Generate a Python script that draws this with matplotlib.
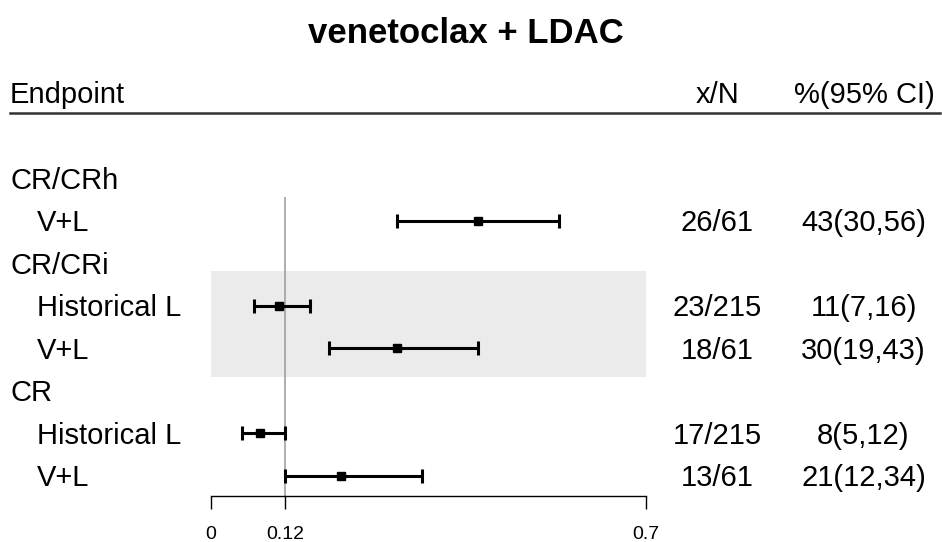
import numpy as np
import matplotlib
matplotlib.use('Agg')
import matplotlib.pyplot as plt
import matplotlib.transforms as mtransforms
from matplotlib.lines import Line2D

plt.rcParams['font.family'] = ['Liberation Sans', 'DejaVu Sans']

# data
row_labels = ['CR/CRh', 'V+L', 'CR/CRi', 'Historical L', 'V+L', 'CR', 'Historical L', 'V+L']
is_group = [True, False, True, False, False, True, False, False]
xn = ['', '26/61', '', '23/215', '18/61', '', '17/215', '13/61']
pct = ['', '43(30,56)', '', '11(7,16)', '30(19,43)', '', '8(5,12)', '21(12,34)']
est = np.array([np.nan, 0.43, np.nan, 0.11, 0.30, np.nan, 0.08, 0.21])
lo = np.array([np.nan, 0.30, np.nan, 0.07, 0.19, np.nan, 0.05, 0.12])
hi = np.array([np.nan, 0.56, np.nan, 0.16, 0.43, np.nan, 0.12, 0.34])
ref_value = 0.12
xticks = [0, 0.12, 0.7]
xticklabels = ['0', '0.12', '0.7']

W, H = 942, 542
fig = plt.figure(figsize=(W / 100, H / 100), dpi=100)
ax = fig.add_axes([210.7 / W, (H - 496) / H, 435.3 / W, (496 - 135.5) / H])

rows = np.arange(1, len(row_labels) + 1)
ax.set_xlim(0, 0.7)
ax.set_ylim(8.48, 0)

# shaded band behind the CR/CRi comparison
ax.axhspan(3.18, 5.69, color='#ebebeb', lw=0, zorder=0)
ax.vlines(ref_value, 1.44, 8.48, color='#999999', lw=1.1, zorder=1)

ok = ~np.isnan(est)
ax.errorbar(est[ok], rows[ok], xerr=[est[ok] - lo[ok], hi[ok] - est[ok]],
            fmt='s', color='black', ms=5.5, capsize=5, elinewidth=2.2,
            capthick=2.2, zorder=3)

for s in ['top', 'right', 'left']:
    ax.spines[s].set_visible(False)
ax.spines['bottom'].set_linewidth(1.0)
ax.set_yticks([])
ax.set_xticks(xticks)
ax.set_xticklabels(xticklabels, fontsize=14)
ax.tick_params(axis='x', direction='out', length=9, width=1.0, pad=12.5)

# text columns, x in figure pixels, y on rows
blend = mtransforms.blended_transform_factory(fig.transFigure, ax.transData)
tr = mtransforms.offset_copy(blend, fig=fig, x=0, y=-10.5, units='dots')
fs = 21
for r, lab, grp, a, b in zip(rows, row_labels, is_group, xn, pct):
    ax.text((10 if grp else 37) / W, r, lab, transform=tr, fontsize=fs,
            ha='left', va='baseline', clip_on=False)
    if a:
        ax.text(717.5 / W, r, a, transform=tr, fontsize=fs, ha='center',
                va='baseline', clip_on=False)
        ax.text(863.5 / W, r, b, transform=tr, fontsize=fs, ha='center',
                va='baseline', clip_on=False)

# header
fig.text(466 / W, 1 - 43 / H, 'venetoclax + LDAC', fontsize=25,
         fontweight='bold', ha='center', va='baseline')
fig.text(10 / W, 1 - 103 / H, 'Endpoint', fontsize=fs, ha='left', va='baseline')
fig.text(717.5 / W, 1 - 103 / H, 'x/N', fontsize=fs, ha='center', va='baseline')
fig.text(864 / W, 1 - 103 / H, '%(95% CI)', fontsize=fs, ha='center', va='baseline')
fig.add_artist(Line2D([10 / W, 940 / W], [1 - 112.7 / H, 1 - 112.7 / H],
                      transform=fig.transFigure, color='#333333', lw=1.8))

fig.savefig('out.png', dpi=100)
